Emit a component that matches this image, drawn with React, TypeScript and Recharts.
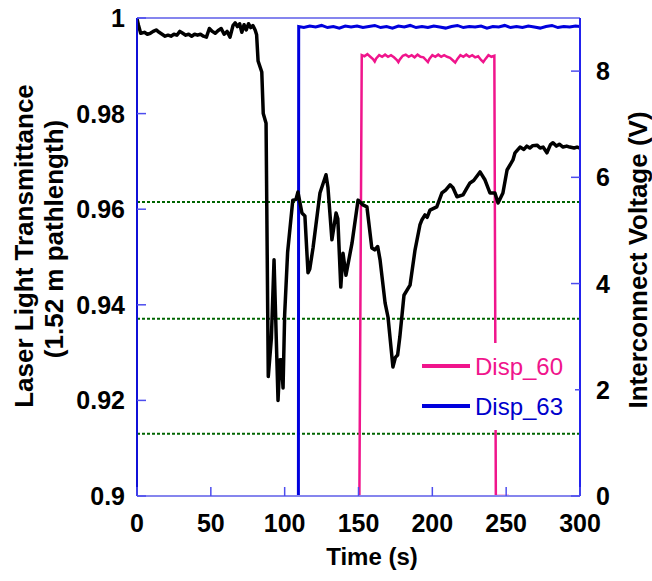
import React from 'react';
import { ComposedChart, Line, XAxis, YAxis, ReferenceLine, Legend } from 'recharts';

// ---- Data ----
const timeTrans = [
  0, 1, 2.5, 5, 7, 9, 11, 13, 15, 17, 19, 21, 23, 25, 27, 29, 31, 33, 35, 37, 39, 41, 43, 45, 47, 49, 51, 53, 55, 57, 59, 61, 63,
  65, 66.5, 68, 69.5, 71, 72.5, 74, 75.5, 77, 78.5, 80, 81, 82, 84.5, 85.5, 87.4, 88.9, 91, 92.8, 95.5, 96.8, 97.8, 98.9, 100,
  102, 105.5, 107.6, 109, 111.7, 113.7, 115.8, 117, 119.2, 123.9, 128, 129.3, 132, 134.8, 136, 138, 139.5, 141.5, 145.6, 149.7,
  153, 155.7, 159, 161, 163, 164.6, 168, 170, 173.3, 175, 176.5, 178, 180.8, 184.9, 188.3, 191.6, 193, 195, 196.5, 198.4, 203,
  206.5, 209, 212, 214, 216.7, 220.8, 223, 225.5, 228, 232.3, 235.7, 239, 242.4, 244.5, 247.8, 250.6, 254.6, 256, 259.4, 262,
  264, 266, 268, 270.9, 273, 275, 277.6, 280, 281.7, 284, 286, 288.5, 291, 293, 296, 298, 300,
];
const transmittance = [
  0.9998, 0.9985, 0.9968, 0.997, 0.9966, 0.9968, 0.9972, 0.9975, 0.997, 0.9966, 0.9962, 0.9964, 0.9962, 0.9966, 0.9964, 0.9972,
  0.9968, 0.9964, 0.9966, 0.9962, 0.9966, 0.9964, 0.9966, 0.9962, 0.996, 0.9978, 0.9972, 0.9968, 0.9974, 0.9978, 0.9966, 0.9972,
  0.996, 0.9984, 0.999, 0.9982, 0.9988, 0.997, 0.9986, 0.9975, 0.9988, 0.998, 0.9984, 0.9975, 0.9965, 0.991, 0.9887, 0.98,
  0.978, 0.925, 0.933, 0.9494, 0.92, 0.9285, 0.9285, 0.9226, 0.938, 0.951, 0.9619, 0.962, 0.9636, 0.9592, 0.9586, 0.9467,
  0.9475, 0.9519, 0.9634, 0.9672, 0.9646, 0.9536, 0.9592, 0.958, 0.9437, 0.9508, 0.9462, 0.9529, 0.9619, 0.9609, 0.9605, 0.9519,
  0.9515, 0.9522, 0.9494, 0.9404, 0.9374, 0.927, 0.929, 0.9295, 0.9333, 0.942, 0.9441, 0.9515, 0.9567, 0.9578, 0.9588, 0.9583,
  0.9598, 0.9605, 0.9634, 0.964, 0.9651, 0.9645, 0.9626, 0.963, 0.9642, 0.9655, 0.966, 0.9678, 0.9661, 0.9634, 0.9634, 0.9613,
  0.9634, 0.9682, 0.9703, 0.9718, 0.973, 0.9725, 0.9732, 0.9728, 0.9733, 0.9734, 0.9728, 0.973, 0.9718, 0.9735, 0.9739, 0.9732,
  0.9736, 0.973, 0.9732, 0.973, 0.9728, 0.973, 0.9728,
];

const disp60Time = [
  150.6, 152.2, 154, 156, 158, 160, 161, 162, 164, 166, 168, 170, 172, 174, 176, 177, 178, 180, 182, 184, 186, 188, 190, 192,
  194, 196, 197, 198, 200, 202, 204, 206, 208, 210, 212, 214, 215.5, 217, 219, 221, 223, 225, 227, 229, 231, 233, 234.5, 236,
  238, 240, 242, 243, 252,
];
const disp60Volt = [
  0, 8.3, 8.28, 8.32, 8.27, 8.22, 8.18, 8.24, 8.3, 8.27, 8.31, 8.27, 8.3, 8.26, 8.21, 8.17, 8.22, 8.29, 8.31, 8.27, 8.3, 8.26,
  8.31, 8.27, 8.26, 8.2, 8.17, 8.23, 8.3, 8.27, 8.31, 8.27, 8.3, 8.27, 8.25, 8.2, 8.16, 8.23, 8.3, 8.27, 8.31, 8.27, 8.3, 8.26,
  8.28, 8.21, 8.17, 8.23, 8.3, 8.27, 8.29, 0, 0,
];

const disp63Time = [
  109.3, 109.5, 113, 117, 121, 125, 129, 133, 137, 141, 145, 149, 153, 157, 161, 165, 169, 173, 177, 181, 185, 189, 193, 197,
  201, 205, 209, 213, 217, 221, 225, 229, 233, 237, 241, 245, 249, 253, 257, 261, 265, 269, 273, 277, 281, 285, 289, 293, 297, 300,
];
const disp63Volt = [
  0, 8.84, 8.82, 8.85, 8.83, 8.86, 8.82, 8.84, 8.81, 8.85, 8.83, 8.85, 8.82, 8.84, 8.86, 8.82, 8.84, 8.81, 8.85, 8.83, 8.86,
  8.82, 8.84, 8.82, 8.85, 8.83, 8.81, 8.84, 8.86, 8.82, 8.84, 8.83, 8.85, 8.81, 8.84, 8.83, 8.86, 8.82, 8.84, 8.82, 8.85, 8.83,
  8.81, 8.84, 8.86, 8.82, 8.84, 8.83, 8.85, 8.84,
];

const xTicks = [0, 50, 100, 150, 200, 250, 300];
const leftTicks = [0.9, 0.92, 0.94, 0.96, 0.98, 1];
const rightTicks = [0, 2, 4, 6, 8];
const thresholdLevels = [0.9615, 0.9371, 0.913];

const seriesNames = ['Disp_60', 'Disp_63'];

// ---- Styles ----
const PINK = '#f0158c';
const BLUE = '#0000dd';
const AXIS_DARK = '#1010d8';
const AXIS_LIGHT = '#8585ee';
const FONT = '"Liberation Sans", Arial, Helvetica, sans-serif';

const transData = timeTrans.map((t, i) => ({ t, v: transmittance[i] }));
const disp60Data = disp60Time.map((t, i) => ({ t, v: disp60Volt[i] }));
const disp63Data = disp63Time.map((t, i) => ({ t, v: disp63Volt[i] }));

const tickText = { fontFamily: FONT, fontWeight: 700, fontSize: 25, fill: '#000' };

const LeftTick = (props: any) => {
  const { x, y, payload } = props;
  return (
    <g>
      <line x1={x} x2={x + 9} y1={y} y2={y} stroke="#4d4dee" strokeWidth={1.5} />
      <text x={x - 12} y={y} textAnchor="end" dominantBaseline="central" style={tickText}>
        {String(payload.value)}
      </text>
    </g>
  );
};

const RightTick = (props: any) => {
  const { x, y, payload } = props;
  return (
    <g>
      <line x1={x} x2={x - 9} y1={y} y2={y} stroke="#4d4dee" strokeWidth={1.5} />
      <text x={x + 16} y={y} textAnchor="start" dominantBaseline="central" style={tickText}>
        {String(payload.value)}
      </text>
    </g>
  );
};

const BottomTick = (props: any) => {
  const { x, y, payload } = props;
  return (
    <g>
      <line x1={x} x2={x} y1={y} y2={y - 9} stroke="#4d4dee" strokeWidth={1.5} />
      <text x={x} y={y + 36} textAnchor="middle" style={tickText}>
        {String(payload.value)}
      </text>
    </g>
  );
};

const LegendContent = () => (
  <svg width={160} height={87} style={{ display: 'block' }}>
    <line x1={7} x2={55} y1={23} y2={23} stroke={PINK} strokeWidth={4} />
    <text x={60} y={23} dominantBaseline="central" style={{ fontFamily: FONT, fontSize: 24, fill: PINK }}>
      {seriesNames[0]}
    </text>
    <line x1={7} x2={55} y1={63} y2={63} stroke={BLUE} strokeWidth={4} />
    <text x={60} y={63} dominantBaseline="central" style={{ fontFamily: FONT, fontSize: 24, fill: '#0000cc' }}>
      {seriesNames[1]}
    </text>
  </svg>
);

export default function App() {
  return (
    <div style={{ position: 'absolute', left: 0, top: 0, width: 652, height: 581, background: '#fff' }}>
      <ComposedChart width={652} height={581} margin={{ top: 18, right: 0, left: 0, bottom: 0 }}>
        <XAxis
          type="number"
          dataKey="t"
          domain={[0, 300]}
          ticks={xTicks}
          interval={0}
          height={85}
          tickSize={0}
          tickMargin={0}
          tick={<BottomTick />}
          axisLine={{ stroke: AXIS_LIGHT, strokeWidth: 2 }}
          allowDataOverflow
        />
        <YAxis
          yAxisId="left"
          orientation="left"
          type="number"
          domain={[0.9, 1]}
          ticks={leftTicks}
          interval={0}
          width={137}
          tickSize={0}
          tickMargin={0}
          tick={<LeftTick />}
          axisLine={{ stroke: AXIS_DARK, strokeWidth: 2 }}
          allowDataOverflow
        />
        <YAxis
          yAxisId="right"
          orientation="right"
          type="number"
          domain={[0, 9]}
          ticks={rightTicks}
          interval={0}
          width={72}
          tickSize={0}
          tickMargin={0}
          tick={<RightTick />}
          axisLine={{ stroke: '#2222ee', strokeWidth: 2 }}
          allowDataOverflow
        />
        <ReferenceLine yAxisId="left" y={1} stroke={AXIS_LIGHT} strokeWidth={2} />
        {thresholdLevels.map((lv) => (
          <ReferenceLine key={lv} yAxisId="left" y={lv} stroke="#006400" strokeWidth={2} strokeDasharray="3 2" />
        ))}
        <Line
          data={disp63Data}
          yAxisId="right"
          dataKey="v"
          name={seriesNames[1]}
          type="linear"
          stroke={BLUE}
          strokeWidth={3}
          dot={false}
          isAnimationActive={false}
        />
        <Line
          data={disp60Data}
          yAxisId="right"
          dataKey="v"
          name={seriesNames[0]}
          type="linear"
          stroke={PINK}
          strokeWidth={2.5}
          dot={false}
          isAnimationActive={false}
        />
        <Line
          data={transData}
          yAxisId="left"
          dataKey="v"
          name="Transmittance"
          type="linear"
          stroke="#000"
          strokeWidth={3.5}
          strokeLinejoin="round"
          dot={false}
          isAnimationActive={false}
        />
        <Legend
          layout="horizontal"
          verticalAlign="middle"
          align="center"
          content={<LegendContent />}
          wrapperStyle={{ position: 'absolute', left: 415, top: 343, width: 160, height: 87, background: '#fff' }}
        />
      </ComposedChart>
      <svg
        width={652}
        height={581}
        style={{ position: 'absolute', left: 0, top: 0, pointerEvents: 'none' }}
      >
        <text
          transform="translate(33,246) rotate(-90)"
          textAnchor="middle"
          style={{ fontFamily: FONT, fontWeight: 700, fontSize: 26, fill: '#000' }}
        >
          Laser Light Transmittance
        </text>
        <text
          transform="translate(63,239) rotate(-90)"
          textAnchor="middle"
          style={{ fontFamily: FONT, fontWeight: 700, fontSize: 26, fill: '#000' }}
        >
          (1.52 m pathlength)
        </text>
        <text
          transform="translate(647,260) rotate(-90)"
          textAnchor="middle"
          style={{ fontFamily: FONT, fontWeight: 700, fontSize: 26, fill: '#000' }}
        >
          Interconnect Voltage (V)
        </text>
        <text
          x={372}
          y={565}
          textAnchor="middle"
          style={{ fontFamily: FONT, fontWeight: 700, fontSize: 24, fill: '#000' }}
        >
          Time (s)
        </text>
      </svg>
    </div>
  );
}
